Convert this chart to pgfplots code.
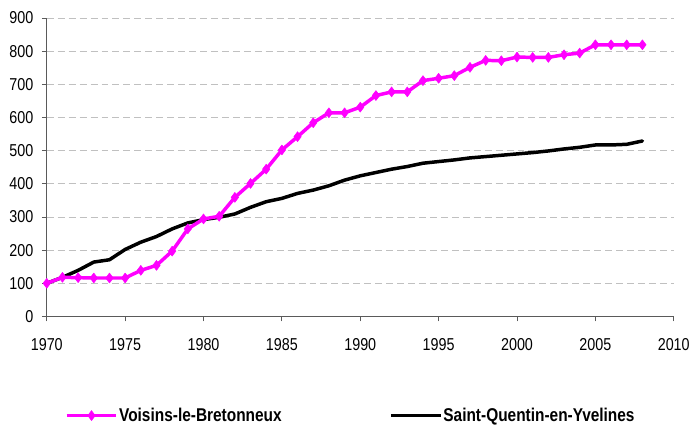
\documentclass[border=0pt]{standalone}
\usepackage{fontspec}
\setmainfont{Liberation Sans}
\usepackage{pgfplots}
\pgfplotsset{compat=1.18}
\definecolor{vmag}{RGB}{255,0,255}
\definecolor{gridgray}{RGB}{192,192,192}
\definecolor{axgray}{RGB}{90,90,90}
\begin{document}
\begin{tikzpicture}
\begin{axis}[
  at={(0pt,0pt)}, anchor=south west,
  scale only axis, width=630pt, height=300pt,
  xmin=1970, xmax=2010, ymin=0, ymax=900,
  xtick={1970,1975,...,2010}, ytick={0,100,...,900},
  axis x line*=bottom, axis y line*=left,
  /pgf/number format/1000 sep={},
  /pgf/number format/assume math mode=true,
  xticklabel={\scalebox{1}[1.2]{\pgfmathprintnumber{\tick}}},
  yticklabel={\scalebox{1}[1.2]{\pgfmathprintnumber{\tick}}},
  tick label style={font=\fontsize{14.4}{16}\selectfont},
  x tick label style={yshift=-14pt},
  y tick label style={xshift=-5pt},
  tick align=outside, major tick length=5pt,
  tick style={axgray, line width=0.8pt},
  axis line style={axgray, line width=0.8pt},
  ymajorgrids, grid style={gridgray, dash pattern=on 7pt off 4pt, line width=0.8pt},
  legend style={at={(axis description cs:0.0286,-0.332)}, anchor=west, draw=none, fill=none,
    font=\bfseries\fontsize{15.5}{16}\selectfont, inner sep=0pt,
    nodes={inner sep=1pt},
    /tikz/every even column/.append style={column sep=107pt}},
  legend columns=2,
  legend image code/.code={\draw[#1, mark repeat=2, mark phase=2] plot coordinates {(0pt,0pt) (25pt,0pt) (50pt,0pt)};},
]
\addlegendimage{vmag, line width=3.5pt, mark=diamond*, mark size=5pt, mark options={line width=0.5pt}}
\addlegendentry{\scalebox{1}[1.2]{Voisins-le-Bretonneux}}
\addlegendimage{black, line width=3.5pt}
\addlegendentry{\scalebox{1}[1.2]{Saint-Quentin-en-Yvelines}}
\addplot[black, line width=3.5pt, line join=round, line cap=round, forget plot] coordinates {
(1970,100) (1971,118) (1972,139) (1973,164) (1974,171) (1975,202) (1976,224) (1977,241)
(1978,264) (1979,282) (1980,292) (1981,299) (1982,309) (1983,329) (1984,346) (1985,356)
(1986,371) (1987,381) (1988,394) (1989,411) (1990,424) (1991,434) (1992,444) (1993,452)
(1994,462) (1995,467) (1996,472) (1997,478) (1998,482) (1999,486) (2000,490) (2001,494)
(2002,499) (2003,505) (2004,510) (2005,517) (2006,517) (2007,519) (2008,529)
};
\addplot[vmag, line width=3.5pt, line join=round, mark=diamond*, mark size=5pt, mark options={line width=0.5pt}, forget plot] coordinates {
(1970,100) (1971,118) (1972,117) (1973,116) (1974,116) (1975,116) (1976,139) (1977,154)
(1978,197) (1979,264) (1980,294) (1981,302) (1982,359) (1983,401) (1984,444) (1985,502)
(1986,542) (1987,584) (1988,614) (1989,614) (1990,631) (1991,666) (1992,677) (1993,677)
(1994,711) (1995,718) (1996,726) (1997,751) (1998,772) (1999,771) (2000,782) (2001,781)
(2002,781) (2003,789) (2004,794) (2005,819) (2006,819) (2007,819) (2008,819)
};
\end{axis}
\useasboundingbox (-47pt,-107pt) rectangle (646pt,318pt);
\end{tikzpicture}
\end{document}
